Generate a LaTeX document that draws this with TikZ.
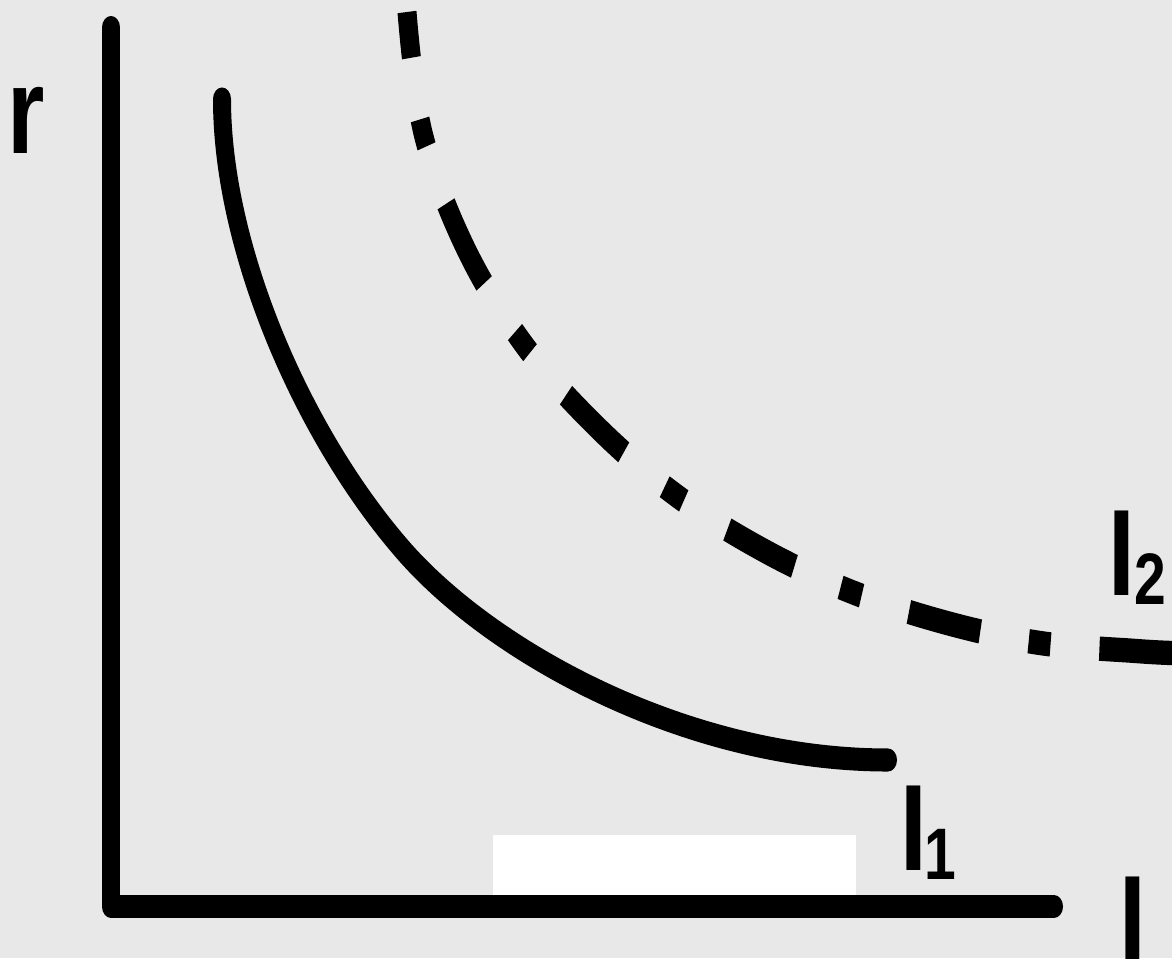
\documentclass[tikz,border=0pt]{standalone}
\usepackage{fontspec}
\setmainfont{Liberation Sans}
\definecolor{bg}{RGB}{232,232,232}
\tikzset{
  axisline/.style={line width=18pt, line cap=round, line join=round},
  curveone/.style={line width=18pt, line cap=round, line join=round},
  curvetwo/.style={line width=19pt, line cap=butt,
    dash pattern=on 73pt off 49pt on 22pt off 49pt, dash phase=37pt},
  lbl/.style={inner sep=0pt, anchor=base west, font=\bfseries\fontsize{96}{96}\selectfont},
}
\newcommand{\mysub}[1]{\raisebox{-7.8pt}{\fontsize{57}{57}\selectfont #1}}
\begin{document}
\begin{tikzpicture}[x=1pt,y=-1pt]
\useasboundingbox (0,0) rectangle (1172,958);
\fill[bg] (0,0) rectangle (1172,958);
\fill[white] (493,835) rectangle (856,900);
\begin{scope}[transform canvas={yscale=1.28}, y={(0pt,-0.78125pt)}]
  \coordinate (ytop) at (111,27.5);
  \coordinate (orig) at (111,906.5);
  \coordinate (xend) at (1054,906.5);
  \draw[axisline] (ytop) -- (orig) -- (xend);
  % solid curve I1
  \coordinate (aone) at (222,99);
  \coordinate (amid) at (403,550);
  \coordinate (aend) at (888,760);
  \draw[curveone] (aone) .. controls (222,249) and (303,435) .. (amid)
                         .. controls (493,653.5) and (688,760) .. (aend);
  % dash-dot curve I2
  \draw[curvetwo] plot[smooth, tension=0.6] coordinates {
    (407,12) (423,133) (465,247) (525,346) (598,428) (677,496)
    (763,550) (852,592) (947,623) (1040,643) (1136,651) (1172,653)};
  % labels
  \node[lbl] (rlabel) at (7,153) {r};
  \node[lbl] (ilabel) at (1119,961) {I};
  \node[lbl] (ione) at (900,870) {I\kern-2.7pt\mysub{1}};
  \node[lbl] (itwo) at (1108,595) {I\mysub{2}};
\end{scope}
\end{tikzpicture}
\end{document}
